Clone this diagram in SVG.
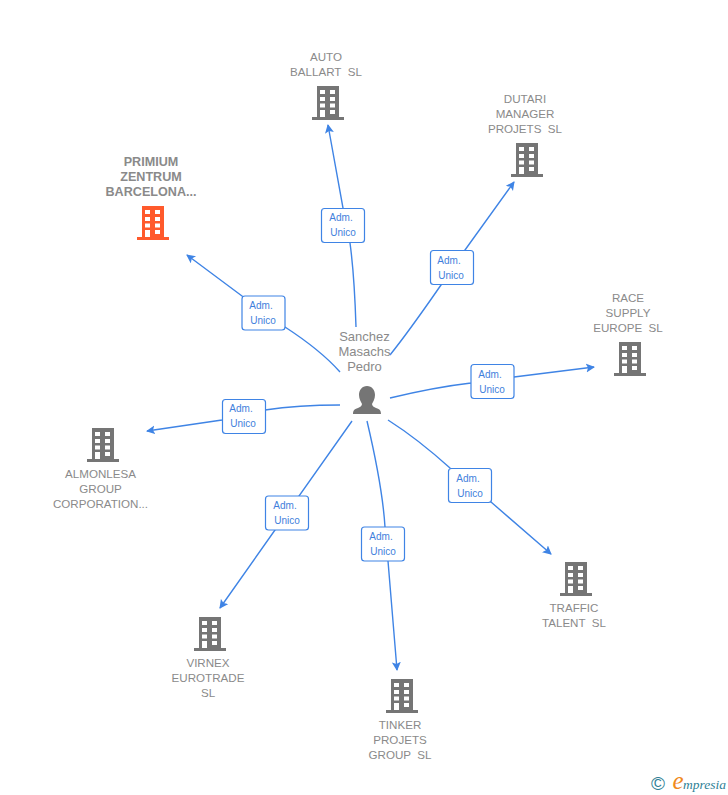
<svg xmlns="http://www.w3.org/2000/svg" width="728" height="795" viewBox="0 0 728 795">
<style>
text{font-family:"Liberation Sans",Arial,sans-serif;text-anchor:middle;white-space:pre}
.n{font-size:11.600px;fill:#8a8a8a}
.b{font-size:12.600px;font-weight:bold;fill:#8a8a8a}
.p{font-size:13px;fill:#8a8a8a}
.l{font-size:10px;fill:#3f7fdc}
.box{fill:#fff;stroke:#3f84e5;stroke-width:1.2}
.e{fill:none;stroke:#3f84e5;stroke-width:1.4;marker-end:url(#a)}
</style>
<defs>
<marker id="a" markerUnits="userSpaceOnUse" markerWidth="10" markerHeight="10" refX="8" refY="4.5" orient="auto"><path d="M0,0L9,4.5L0,9L2,4.5Z" fill="#3f84e5"/></marker>
<path id="bld" fill-rule="evenodd" d="M5,0H27V31H32V34H0V31H5ZM8,4V8H13V4ZM18,4V8H23V4ZM8,11V15H13V11ZM18,11V15H23V11ZM8,17.500V21.500H13V17.500ZM18,17.500V21.500H23V17.500ZM8,24V31H13V24ZM18,24V28H23V24Z"/>
</defs>
<g id="connectors">
<path class="e" d="M356,327C355,295 353,265 350,243L343,208L328,125"/>
<path class="e" d="M390,355C410,330 425,308 441,285L465,250L514,182"/>
<path class="e" d="M390,398C415,392 445,386 471,383L514,377L594,367"/>
<path class="e" d="M388,420C410,434 430,450 450,468L491,502L551,554"/>
<path class="e" d="M367,421C375,455 383,495 385,527L388,561L397,670"/>
<path class="e" d="M352,421L287,513L220,608"/>
<path class="e" d="M340,405C310,405 285,407 265,410L222,420L147,431"/>
<path class="e" d="M340,372C325,355 305,340 285,327L242,296L187,255"/>
</g>
<g id="label-auto"><rect class="box" x="321.500" y="208.500" width="43" height="34" rx="3"/><text class="l" x="341" y="221">Adm.</text><text class="l" x="343" y="236">Unico</text></g>
<g id="label-primium"><rect class="box" x="242" y="296" width="43" height="34" rx="3"/><text class="l" x="261" y="309">Adm.</text><text class="l" x="263" y="324">Unico</text></g>
<g id="label-dutari"><rect class="box" x="430.500" y="250.500" width="43" height="34" rx="3"/><text class="l" x="449" y="264">Adm.</text><text class="l" x="451" y="279">Unico</text></g>
<g id="label-race"><rect class="box" x="471" y="364.500" width="43" height="34" rx="3"/><text class="l" x="490" y="378">Adm.</text><text class="l" x="492" y="393">Unico</text></g>
<g id="label-traffic"><rect class="box" x="448.500" y="468.500" width="43" height="34" rx="3"/><text class="l" x="468" y="482">Adm.</text><text class="l" x="470" y="497">Unico</text></g>
<g id="label-tinker"><rect class="box" x="361.500" y="527" width="43" height="34" rx="3"/><text class="l" x="381" y="540">Adm.</text><text class="l" x="383" y="555">Unico</text></g>
<g id="label-virnex"><rect class="box" x="265.500" y="496" width="43" height="34" rx="3"/><text class="l" x="285" y="509">Adm.</text><text class="l" x="287" y="524">Unico</text></g>
<g id="label-almonlesa"><rect class="box" x="222.500" y="399.500" width="43" height="34" rx="3"/><text class="l" x="241" y="412">Adm.</text><text class="l" x="243" y="427">Unico</text></g>
<g id="node-center">
<text class="p" x="364.500" y="341">Sanchez</text><text class="p" x="364.500" y="356">Masachs</text><text class="p" x="364.500" y="371">Pedro</text>
<path fill="#757575" d="M367,386C372,386 375,390 375,395C375,399 373,402 372,404C372,406 374,407 376,408C380,409 381,411 381,414H353C353,411 354,409 358,408C360,407 362,406 362,404C361,402 359,399 359,395C359,390 362,386 367,386Z"/>
</g>
<g id="node-auto" fill="#757575"><text class="n" x="326" y="61">AUTO</text><text class="n" x="326" y="76">BALLART  SL</text><use href="#bld" x="312" y="86"/></g>
<g id="node-dutari" fill="#757575"><text class="n" x="525" y="103">DUTARI</text><text class="n" x="525" y="118">MANAGER</text><text class="n" x="525" y="133">PROJETS  SL</text><use href="#bld" x="511" y="143"/></g>
<g id="node-primium" fill="#ff5a2c"><text class="b" x="151" y="166">PRIMIUM</text><text class="b" x="151" y="181">ZENTRUM</text><text class="b" x="151" y="196">BARCELONA...</text><use href="#bld" x="137" y="206"/></g>
<g id="node-race" fill="#757575"><text class="n" x="628" y="302">RACE</text><text class="n" x="628" y="317">SUPPLY</text><text class="n" x="628" y="332">EUROPE  SL</text><use href="#bld" x="614" y="342"/></g>
<g id="node-almonlesa" fill="#757575"><use href="#bld" x="87" y="428"/><text class="n" x="100.500" y="478">ALMONLESA</text><text class="n" x="100.500" y="493">GROUP</text><text class="n" x="100.500" y="508">CORPORATION...</text></g>
<g id="node-traffic" fill="#757575"><use href="#bld" x="560" y="562"/><text class="n" x="574" y="612">TRAFFIC</text><text class="n" x="574" y="627">TALENT  SL</text></g>
<g id="node-virnex" fill="#757575"><use href="#bld" x="194" y="617"/><text class="n" x="208" y="667">VIRNEX</text><text class="n" x="208" y="682">EUROTRADE</text><text class="n" x="208" y="697">SL</text></g>
<g id="node-tinker" fill="#757575"><use href="#bld" x="386" y="679"/><text class="n" x="400" y="729">TINKER</text><text class="n" x="400" y="744">PROJETS</text><text class="n" x="400" y="759">GROUP  SL</text></g>
<g id="logo">
<text x="658" y="790" style="font-size:19px;fill:#2f7f96">©</text>
<text x="678" y="789" style="font-family:'Liberation Serif',serif;font-style:italic;font-size:25px;fill:#f08a1d">e</text>
<text x="704.500" y="789" style="font-family:'Liberation Serif',serif;font-style:italic;font-size:13.500px;fill:#2f7f96">mpresia</text>
</g>
</svg>
